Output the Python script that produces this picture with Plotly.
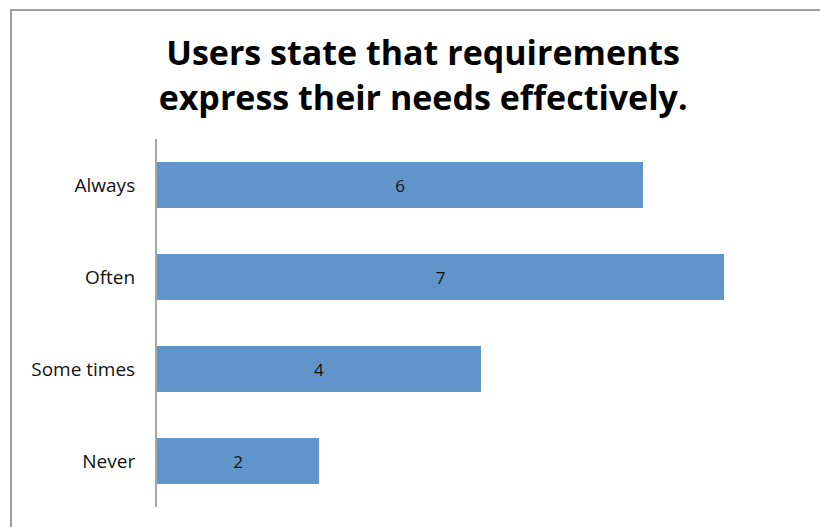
import plotly.graph_objects as go

# Survey responses
categories = ["Always", "Often", "Some times", "Never"]
counts = [6, 7, 4, 2]
title_lines = ["Users state that requirements", "express their needs effectively."]

bar_color = "#6195C9"

fig = go.Figure(
    go.Bar(
        x=counts,
        y=categories,
        orientation="h",
        marker=dict(color=bar_color, line=dict(width=0)),
        text=[str(v) for v in counts],
        textposition="inside",
        insidetextanchor="middle",
        textfont=dict(family="Open Sans", size=17, color="#111111"),
        hoverinfo="skip",
    )
)

fig.update_layout(
    width=820,
    height=527,
    paper_bgcolor="white",
    plot_bgcolor="white",
    margin=dict(l=157, r=15, t=139, b=20),
    bargap=0.5,
    showlegend=False,
    title=dict(
        text="<br>".join(title_lines),
        x=0.516,
        xanchor="center",
        y=0.876,
        yanchor="middle",
        font=dict(family="Open Sans", size=34, color="#000000", weight="bold"),
    ),
    xaxis=dict(
        range=[0, 8],
        showgrid=False,
        zeroline=False,
        showticklabels=False,
        showline=False,
    ),
    yaxis=dict(
        categoryorder="array",
        categoryarray=categories[::-1],
        showgrid=False,
        zeroline=False,
        showline=True,
        linecolor="#A6A6A6",
        linewidth=2,
        ticks="",
        ticklabelstandoff=16,
        tickfont=dict(family="Open Sans", size=19, color="#111111"),
    ),
    shapes=[
        dict(
            type="rect",
            xref="paper",
            yref="paper",
            x0=-0.2253,
            x1=1.2,
            y0=-0.2,
            y1=1.3505,
            line=dict(color="#A0A0A0", width=2),
            fillcolor="rgba(0,0,0,0)",
            layer="below",
        )
    ],
)

fig.write_html("out.html")
